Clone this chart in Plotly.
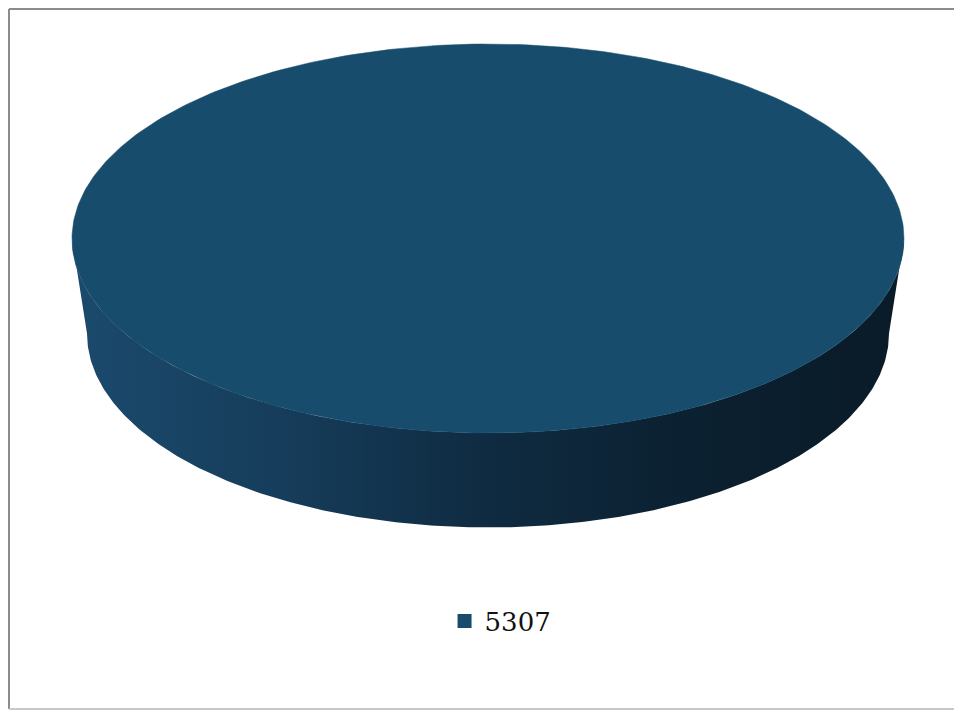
import numpy as np
import plotly.graph_objects as go

# ---- data ----
labels = ["5307"]
values = [5307]
colors_top = ["#174c6c"]

# ---- geometry (pixel space; page has an 8px body offset) ----
W, H = 962, 711
off = 8
cx, cy = 488 - off, 238.5 - off
rx, ry = 416, 194.5
depth = 95
rx_b, ry_b = 401, 194

fig = go.Figure()

total = sum(values)
start = 0.0
for lab, v, col in zip(labels, values, colors_top):
    frac = v / total
    t = np.linspace(start, start + 2 * np.pi * frac, 400)
    start += 2 * np.pi * frac
    # side (front visible half)
    tf = np.linspace(0, np.pi, 300)
    xs = np.concatenate([cx + rx * np.cos(tf[::-1]), cx + rx_b * np.cos(tf)])
    ys = np.concatenate([cy + ry * np.sin(tf[::-1]), cy + depth + ry_b * np.sin(tf)])
    fig.add_trace(go.Scatter(
        x=xs, y=ys, mode="lines", fill="toself",
        line=dict(width=0, color="rgba(0,0,0,0)"),
        fillgradient=dict(type="horizontal",
                          colorscale=[[0, "#1b4a6d"], [0.25, "#163d5b"],
                                      [0.5, "#0f2b41"], [0.75, "#0b2030"],
                                      [1, "#0a1b28"]]),
        hoverinfo="skip", showlegend=False))
    # top face
    if frac < 1:
        xt = np.concatenate([[cx], cx + rx * np.cos(t), [cx]])
        yt = np.concatenate([[cy], cy + ry * np.sin(t), [cy]])
    else:
        xt = cx + rx * np.cos(t)
        yt = cy + ry * np.sin(t)
    fig.add_trace(go.Scatter(
        x=xt, y=yt, mode="lines", fill="toself", fillcolor=col,
        line=dict(width=0.5, color=col),
        hoverinfo="skip", showlegend=False))
    # legend entry
    fig.add_trace(go.Scatter(
        x=[None], y=[None], mode="markers", name=lab,
        marker=dict(symbol="square", size=14, color=col)))

# outer frame: left, top and bottom edges (right edge lies outside the view)
fig.add_shape(type="line", x0=1, y0=1, x1=1, y1=709 - off,
              line=dict(color="#8c8c8c", width=2))
fig.add_shape(type="line", x0=1, y0=1, x1=W, y1=1,
              line=dict(color="#8c8c8c", width=2))
fig.add_shape(type="line", x0=1, y0=709 - off, x1=W, y1=709 - off,
              line=dict(color="#c8c8c8", width=2))

fig.update_layout(
    width=W, height=H,
    margin=dict(l=0, r=0, t=0, b=0),
    paper_bgcolor="white", plot_bgcolor="white",
    xaxis=dict(range=[0, W], visible=False, fixedrange=True),
    yaxis=dict(range=[H, 0], visible=False, fixedrange=True),
    showlegend=True,
    legend=dict(x=0.512, y=(H - 613) / H, xanchor="center", yanchor="middle",
                font=dict(family="DejaVu Serif", size=26, color="#111111"),
                bgcolor="rgba(0,0,0,0)", itemwidth=30),
)

fig.write_html("out.html")
